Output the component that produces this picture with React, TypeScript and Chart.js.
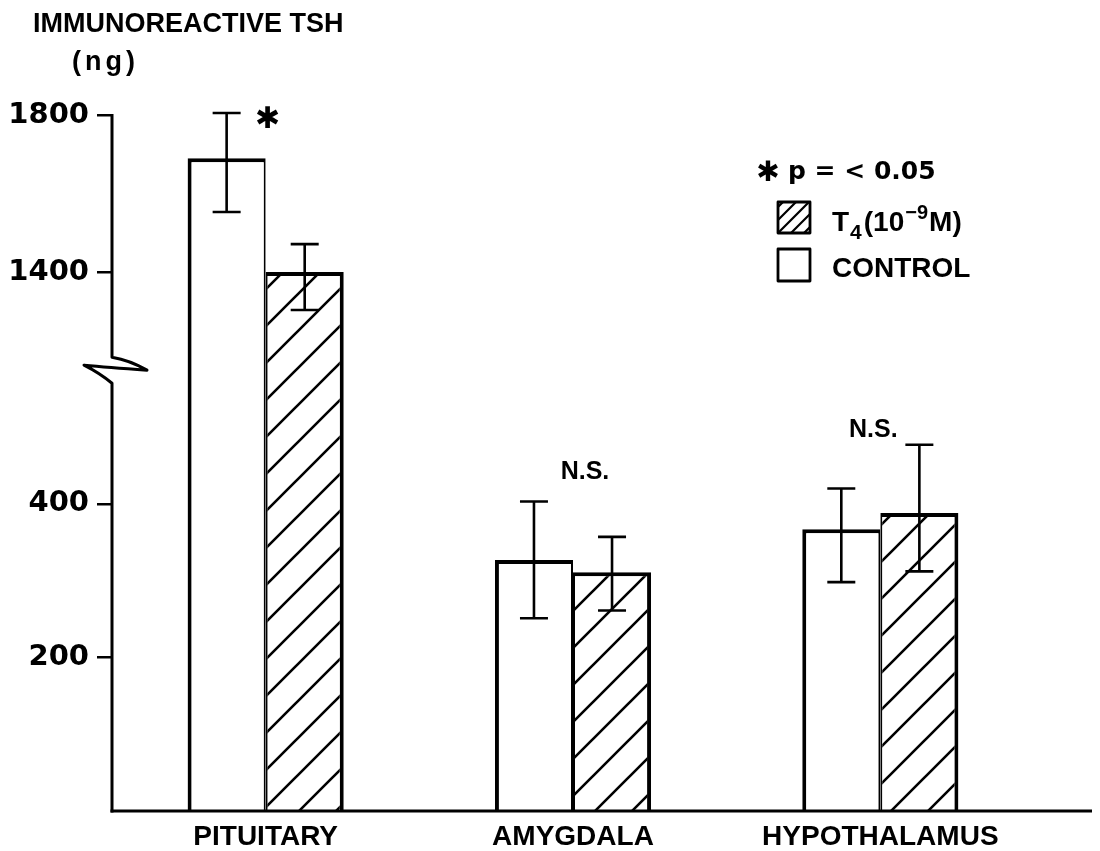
import React, { useEffect, useRef } from 'react';
import { Chart, registerables } from 'chart.js';

Chart.register(...registerables);

// ---- data ----
const categories = ['PITUITARY', 'AMYGDALA', 'HYPOTHALAMUS'];
const controlMeans = [1690, 327, 367];
const controlLow = [1553, 251, 298];
const controlHigh = [1805, 403, 420];
const t4Means = [1400, 311, 388];
const t4Low = [1303, 261, 312];
const t4High = [1471, 357, 477];
const yTickValues = [200, 400, 1400, 1800];
const annotationLabels = ['✱', 'N.S.', 'N.S.'];
const annotationValues = [1786, 441, 496];

// ---- broken y axis: lower segment linear, upper segment compressed ----
const BREAK_LOW = 557;
const BREAK_HIGH = 1183;
const GAP = 34;
const UPPER_SCALE = 0.5111;
const toAxis = (v: number) =>
  v <= BREAK_LOW ? v : BREAK_LOW + GAP + (v - BREAK_HIGH) * UPPER_SCALE;

const BLACK = '#000';
const LABEL_FONT = 'Liberation Sans';
const NUM_FONT = 'DejaVu Sans';

function makeHatch(ctx: CanvasRenderingContext2D) {
  const s = 37;
  const c = document.createElement('canvas');
  c.width = s;
  c.height = s;
  const g = c.getContext('2d')!;
  g.fillStyle = '#fff';
  g.fillRect(0, 0, s, s);
  g.strokeStyle = BLACK;
  g.lineWidth = 2.6;
  g.beginPath();
  g.moveTo(-3, s + 3);
  g.lineTo(s + 3, -3);
  g.moveTo(-3, 3);
  g.lineTo(3, -3);
  g.moveTo(s - 3, s + 3);
  g.lineTo(s + 3, s - 3);
  g.stroke();
  return ctx.createPattern(c, 'repeat')!;
}

const decorPlugin = {
  id: 'decor',
  afterDatasetsDraw(chart: any) {
    const ctx: CanvasRenderingContext2D = chart.ctx;
    const x = chart.scales.x;
    const y = chart.scales.y;
    ctx.save();
    ctx.strokeStyle = BLACK;
    ctx.lineWidth = 2.6;
    ctx.lineCap = 'butt';
    const sets = [
      [controlLow, controlHigh],
      [t4Low, t4High],
    ];
    sets.forEach(([lo, hi], di) => {
      const meta = chart.getDatasetMeta(di);
      meta.data.forEach((bar: any, j: number) => {
        const cx = bar.x;
        const yH = y.getPixelForValue(toAxis(hi[j]));
        const yL = y.getPixelForValue(toAxis(lo[j]));
        ctx.beginPath();
        ctx.moveTo(cx, yH);
        ctx.lineTo(cx, yL);
        ctx.moveTo(cx - 14, yH);
        ctx.lineTo(cx + 14, yH);
        ctx.moveTo(cx - 14, yL);
        ctx.lineTo(cx + 14, yL);
        ctx.stroke();
      });
    });

    // annotations
    const dxs = [2, 12, -7];
    ctx.fillStyle = BLACK;
    ctx.textAlign = 'center';
    ctx.textBaseline = 'middle';
    annotationLabels.forEach((t, j) => {
      const px = x.getPixelForValue(j) + dxs[j];
      const py = y.getPixelForValue(toAxis(annotationValues[j]));
      ctx.font = j === 0 ? `bold 30px ${NUM_FONT}` : `bold 25px ${LABEL_FONT}`;
      ctx.fillText(t, px, py);
    });
    ctx.restore();
  },
  afterDraw(chart: any) {
    const ctx: CanvasRenderingContext2D = chart.ctx;
    const { left, top, bottom } = chart.chartArea;
    const y = chart.scales.y;
    ctx.save();
    ctx.strokeStyle = BLACK;
    ctx.fillStyle = BLACK;
    ctx.lineWidth = 3;
    ctx.lineJoin = 'round';
    // x axis baseline (extends past the last category)
    ctx.beginPath();
    ctx.moveTo(left - 1.5, bottom);
    ctx.lineTo(chart.width - 8, bottom);
    ctx.stroke();
    // y axis with break
    const yBreakBot = y.getPixelForValue(BREAK_LOW);
    const yBreakTop = y.getPixelForValue(BREAK_LOW + GAP);
    ctx.beginPath();
    ctx.moveTo(left, top - 1);
    ctx.lineTo(left, yBreakTop);
    ctx.quadraticCurveTo(left + 18, yBreakTop + 3, left + 35, yBreakTop + 13);
    ctx.quadraticCurveTo(left - 5, yBreakTop + 10, left - 28, yBreakTop + 8);
    ctx.quadraticCurveTo(left - 12, yBreakBot - 10, left, yBreakBot);
    ctx.lineTo(left, bottom + 1.5);
    ctx.stroke();

    // axis title
    ctx.textAlign = 'left';
    ctx.textBaseline = 'middle';
    ctx.font = `bold 27px ${LABEL_FONT}`;
    ctx.fillText('IMMUNOREACTIVE TSH', 33, 25);
    (ctx as any).letterSpacing = '4px';
    ctx.fillText('(ng)', 72, 63);
    (ctx as any).letterSpacing = '0px';

    // legend
    ctx.font = `bold 28px ${NUM_FONT}`;
    ctx.textAlign = 'center';
    ctx.fillText('✱', 768, 174);
    ctx.textAlign = 'left';
    ctx.font = `bold 25px ${NUM_FONT}`;
    ctx.fillText('p = < 0.05', 788, 172);

    // hatched box
    const bx = 778, bw = 32, bh = 31;
    const b1 = 202;
    ctx.save();
    ctx.beginPath();
    ctx.rect(bx, b1, bw, bh);
    ctx.clip();
    ctx.lineWidth = 2.2;
    ctx.beginPath();
    for (let k = -2; k <= 3; k++) {
      const off = k * 13;
      ctx.moveTo(bx + off, b1 + bh);
      ctx.lineTo(bx + off + bh, b1);
    }
    ctx.stroke();
    ctx.restore();
    ctx.lineWidth = 2.8;
    ctx.strokeRect(bx, b1, bw, bh);
    // control box
    const b2 = 249;
    ctx.strokeRect(bx, b2, bw, bh + 1);

    // T4(10^-9 M) label
    ctx.textBaseline = 'alphabetic';
    let tx = 832;
    const base1 = 231;
    ctx.font = `bold 28px ${LABEL_FONT}`;
    ctx.fillText('T', tx, base1);
    tx += ctx.measureText('T').width + 1;
    ctx.font = `bold 21px ${LABEL_FONT}`;
    ctx.fillText('4', tx, base1 + 8);
    tx += ctx.measureText('4').width + 2;
    ctx.font = `bold 28px ${LABEL_FONT}`;
    ctx.fillText('(10', tx, base1);
    tx += ctx.measureText('(10').width + 1;
    ctx.font = `bold 20px ${LABEL_FONT}`;
    ctx.fillText('−9', tx, base1 - 12);
    tx += ctx.measureText('−9').width + 1;
    ctx.font = `bold 28px ${LABEL_FONT}`;
    ctx.fillText('M)', tx, base1);

    ctx.fillText('CONTROL', 832, 277);
    ctx.restore();
  },
};

export default function App() {
  const ref = useRef<HTMLCanvasElement | null>(null);
  useEffect(() => {
    const canvas = ref.current!;
    const ctx = canvas.getContext('2d')!;
    const hatch = makeHatch(ctx);
    const chart = new Chart(canvas, {
      type: 'bar',
      data: {
        labels: categories,
        datasets: [
          {
            label: 'CONTROL',
            data: controlMeans.map(toAxis),
            backgroundColor: '#fff',
            borderColor: BLACK,
            borderWidth: { top: 4, left: 4, right: 2, bottom: 0 },
            borderSkipped: false,
            categoryPercentage: 0.508,
            barPercentage: 1,
          },
          {
            label: 'T4 (10⁻⁹ M)',
            data: t4Means.map(toAxis),
            backgroundColor: hatch,
            borderColor: BLACK,
            borderWidth: { top: 4, left: 2, right: 4, bottom: 0 },
            borderSkipped: false,
            categoryPercentage: 0.508,
            barPercentage: 1,
          },
        ],
      },
      options: {
        animation: false,
        responsive: true,
        maintainAspectRatio: false,
        layout: { padding: { top: 115, right: 66, left: 0, bottom: 0 } },
        plugins: {
          legend: { display: false },
          tooltip: { enabled: false },
          title: { display: false },
        },
        scales: {
          x: {
            type: 'category',
            offset: true,
            grid: { display: false, drawTicks: false },
            border: { display: false },
            ticks: {
              color: BLACK,
              font: { family: LABEL_FONT, weight: 'bold', size: 28 },
              padding: 9,
              maxRotation: 0,
              autoSkip: false,
            },
            afterFit: (s: any) => {
              s.height = 40;
            },
          },
          y: {
            type: 'linear',
            min: 0,
            max: toAxis(1800),
            afterBuildTicks: (s: any) => {
              s.ticks = yTickValues.map((v) => ({ value: toAxis(v) }));
            },
            afterFit: (s: any) => {
              s.width = 112;
            },
            ticks: {
              color: BLACK,
              font: { family: NUM_FONT, weight: 'bold', size: 29 },
              padding: 8,
              callback: (_v: any, i: number) => String(yTickValues[i]),
            },
            grid: {
              drawOnChartArea: false,
              drawTicks: true,
              tickLength: 15,
              color: BLACK,
              lineWidth: 2.5,
            },
            border: { display: false },
          },
        },
      },
      plugins: [decorPlugin],
    });
    return () => chart.destroy();
  }, []);
  return (
    <div style={{ position: 'absolute', left: 0, top: 0, width: 1100, height: 851, background: '#fff' }}>
      <canvas ref={ref} />
    </div>
  );
}
